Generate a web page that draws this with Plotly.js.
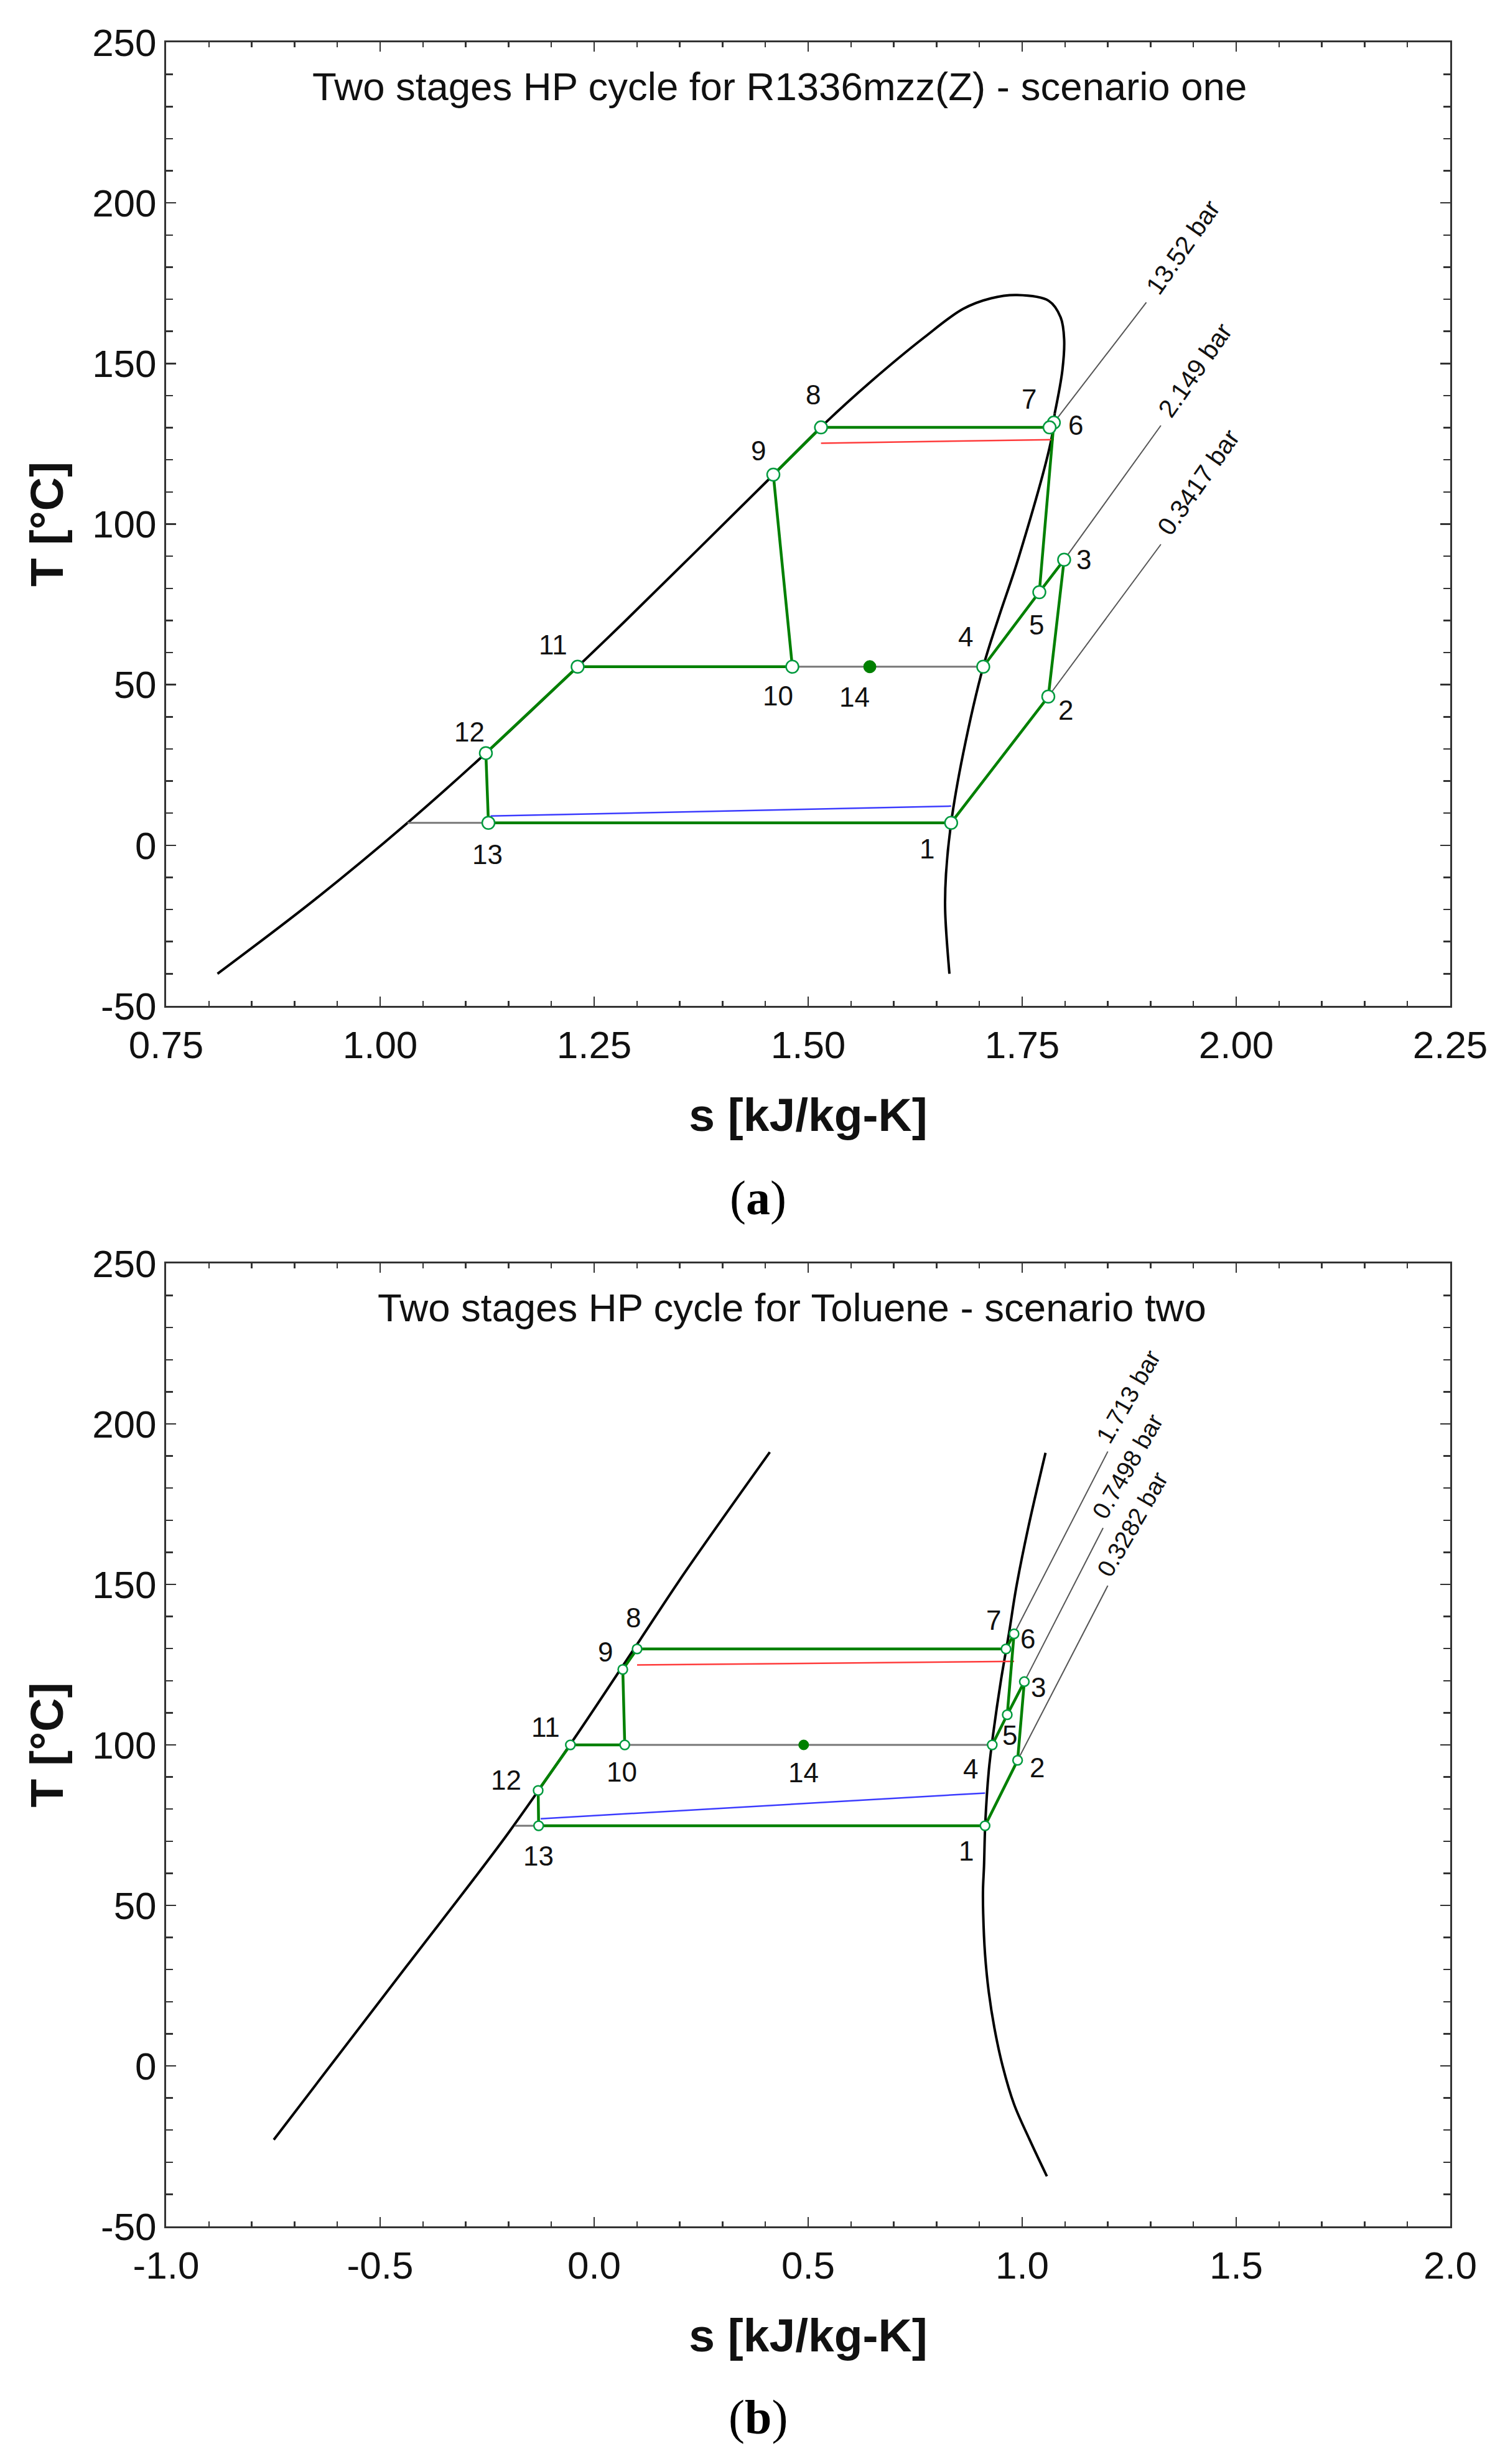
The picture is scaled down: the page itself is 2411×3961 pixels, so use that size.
<!DOCTYPE html>
<html>
<head>
<meta charset="utf-8">
<script src="https://cdn.plot.ly/plotly-3.0.1.min.js"></script>
<style>html,body{margin:0;padding:0;background:#fff}#chart{width:2411px;height:3961px}</style>
</head>
<body>
<div id="chart"></div>
<script>
// ---- Panel (a) R1336mzz(Z) ----
const aStateNames = ['1','2','3','4','5','6','7','8','9','10','11','12','13','14'];
const aStateS = [1.667,1.7805,1.799,1.7045,1.770,1.787,1.782,1.515,1.4593,1.4815,1.2307,1.1235,1.1265,1.572];
const aStateT = [7.0,46.3,88.9,55.6,78.8,131.6,130.1,130.1,115.4,55.6,55.6,28.7,7.0,55.6];
const aLabelS = [1.639,1.801,1.822,1.684,1.767,1.8125,1.758,1.506,1.442,1.465,1.202,1.104,1.1257,1.5545];
const aLabelT = [-1.0,42,88.9,64.9,68.6,130.8,138.9,140.3,122.8,46.5,62.4,35.3,-2.8,46.1];
const aLiquidS = [0.810,0.9246,1.032,1.1235,1.2307,1.285,1.4535,1.52,1.5734,1.635,1.681,1.7137,1.744,1.781,1.795,1.799,1.797,1.788];
const aLiquidT = [-40,-16.7,7,28.7,55.6,69.5,113.8,131.5,144.4,158,167,170.3,171.3,169.5,164.3,157.6,148,134.5];
const aVaporS = [1.788,1.784,1.746,1.723,1.7045,1.681,1.667,1.661,1.66,1.665];
const aVaporT = [134.5,126.3,89.7,71.3,55.6,28.5,7,-8.9,-20,-40];
const aIsoLowS = [1.032,1.1265], aIsoLowT = [7,7];
const aIsoMidS = [1.4815,1.7045], aIsoMidT = [55.6,55.6];
const aRedS = [1.515,1.787], aRedT = [125.2,126.3];
const aBlueS = [1.129,1.667], aBlueT = [9.1,12.2];
const aLeadEndS = [1.895,1.912,1.912], aLeadEndT = [169,130.7,93.7];
const aPressureText = ['13.52 bar','2.149 bar','0.3417 bar'];
const aPressureS = [1.9375,1.952,1.956], aPressureT = [186.1,148,113.1];

// ---- Panel (b) Toluene ----
const bStateS = [0.9132,0.9893,1.005,0.930,0.9651,0.981,0.9622,0.1003,0.0669,0.0715,-0.0555,-0.1308,-0.1297,0.4895];
const bStateT = [74.8,95.2,119.7,100,109.4,134.6,129.9,129.9,123.5,100,100,85.8,74.8,100];
const bLabelS = [0.8688,1.035,1.0384,0.8789,0.9707,1.0124,0.9336,0.091,0.0262,0.065,-0.1138,-0.2057,-0.1297,0.4884];
const bLabelT = [66.9,93,118,92.5,103,133,138.8,139.7,129,91.5,105.5,89.1,65.5,91.3];
const bLiquidS = [-0.7485,-0.608,-0.4385,-0.2035,-0.0484,0.1066,0.2107,0.4104];
const bLiquidT = [-23,1.5,31,72,101.6,132.6,153.5,191.2];
const bVaporS = [1.0577,1.0174,0.9811,0.9544,0.9351,0.922,0.9132,0.9089,0.9084,0.9108,0.9137,0.922,0.9331,0.95,0.9693,0.9858,1.014,1.0545];
const bVaporT = [-34.4,-23,-12,-0.1,11.8,22.9,34.8,47.4,54.8,62.2,75.4,92,104.3,119.8,134.9,148.8,167.6,191];
const bIsoLowS = [-0.1851,-0.1297], bIsoLowT = [74.8,74.8];
const bIsoMidS = [0.0715,0.930], bIsoMidT = [100,100];
const bRedS = [0.1003,0.981], bRedT = [124.9,126];
const bBlueS = [-0.125,0.9132], bBlueT = [77,85];
const bLeadEndS = [1.2,1.189,1.2], bLeadEndT = [191.4,167.6,149.6];
const bPressureText = ['1.713 bar','0.7498 bar','0.3282 bar'];
const bPressureS = [1.2485,1.247,1.2586], bPressureT = [208.6,186.9,168.8];

// ---- Axes ticks ----
const tempTicks = [-50,0,50,100,150,200,250];
const tempTickText = ['-50','0','50','100','150','200','250'];
const aEntropyTicks = [0.75,1.0,1.25,1.5,1.75,2.0,2.25];
const aEntropyText = ['0.75','1.00','1.25','1.50','1.75','2.00','2.25'];
const bEntropyTicks = [-1,-0.5,0,0.5,1,1.5,2];
const bEntropyText = ['-1.0','-0.5','0.0','0.5','1.0','1.5','2.0'];

const FONT = 'Liberation Sans, Arial, sans-serif';
const GREEN = '#008000';
const W = 2411, H = 3961;
const pathHi = [12,0,1,2,4,3];          // 13-1-2-3-5-4
const pathLo = [4,5,6,7,8,9,10,11,12];  // 5-6-7-8-9-10-11-12-13

function line(x,y,color,width,xa,ya,shape){
  return {x:x,y:y,mode:'lines',type:'scatter',xaxis:xa,yaxis:ya,hoverinfo:'skip',showlegend:false,
          line:{color:color,width:width,shape:shape||'linear'}};
}
function panel(d,xa,ya,markerSize,dotSize){
  const t = [];
  t.push(line(d.liqS,d.liqT,'#000',4,xa,ya,'spline'));
  t.push(line(d.vapS,d.vapT,'#000',4,xa,ya,'spline'));
  [5,2,1].forEach((k,i)=>{
    t.push(line([d.s[k],d.leadS[i]],[d.T[k],d.leadT[i]],'#555',2,xa,ya));
  });
  t.push(line(d.isoLowS,d.isoLowT,'#777',3,xa,ya));
  t.push(line(d.isoMidS,d.isoMidT,'#777',3,xa,ya));
  t.push(line(d.redS,d.redT,'#ff3b3b',2.5,xa,ya));
  t.push(line(d.blueS,d.blueT,'#3b3bff',2.5,xa,ya));
  t.push(line(pathHi.map(i=>d.s[i]),pathHi.map(i=>d.T[i]),GREEN,4.5,xa,ya));
  t.push(line(pathLo.map(i=>d.s[i]),pathLo.map(i=>d.T[i]),GREEN,4.5,xa,ya));
  t.push({x:d.s.slice(0,13),y:d.T.slice(0,13),mode:'markers',type:'scatter',xaxis:xa,yaxis:ya,hoverinfo:'skip',showlegend:false,
          marker:{size:markerSize,color:'#fff',line:{color:'#009a3e',width:2.5}}});
  t.push({x:[d.s[13]],y:[d.T[13]],mode:'markers',type:'scatter',xaxis:xa,yaxis:ya,hoverinfo:'skip',showlegend:false,
          marker:{size:dotSize,color:GREEN,line:{color:GREEN,width:1}}});
  return t;
}
const dataA = {s:aStateS,T:aStateT,liqS:aLiquidS,liqT:aLiquidT,vapS:aVaporS,vapT:aVaporT,leadS:aLeadEndS,leadT:aLeadEndT,
  isoLowS:aIsoLowS,isoLowT:aIsoLowT,isoMidS:aIsoMidS,isoMidT:aIsoMidT,redS:aRedS,redT:aRedT,blueS:aBlueS,blueT:aBlueT};
const dataB = {s:bStateS,T:bStateT,liqS:bLiquidS,liqT:bLiquidT,vapS:bVaporS,vapT:bVaporT,leadS:bLeadEndS,leadT:bLeadEndT,
  isoLowS:bIsoLowS,isoLowT:bIsoLowT,isoMidS:bIsoMidS,isoMidT:bIsoMidT,redS:bRedS,redT:bRedT,blueS:bBlueS,blueT:bBlueT};
const traces = panel(dataA,'x','y',20,20).concat(panel(dataB,'x2','y2',15,16));

const ann = [];
function txt(text,x,y,xr,yr,size,extra){
  ann.push(Object.assign({text:text,x:x,y:y,xref:xr,yref:yr,showarrow:false,xanchor:'center',yanchor:'middle',
    font:{family:FONT,size:size,color:'#111'}},extra||{}));
}
aStateNames.forEach((n,i)=>{
  txt(n,aLabelS[i],aLabelT[i],'x','y',44);
  txt(n,bLabelS[i],bLabelT[i],'x2','y2',44);
});
aPressureText.forEach((n,i)=>txt(n,aPressureS[i],aPressureT[i],'x','y',41,{textangle:-55}));
bPressureText.forEach((n,i)=>txt(n,bPressureS[i],bPressureT[i],'x2','y2',39,{textangle:-60}));
txt('Two stages HP cycle for R1336mzz(Z) - scenario one',1253/W,1-139/H,'paper','paper',63.5);
txt('Two stages HP cycle for Toluene - scenario two',1273/W,1-2102/H,'paper','paper',63.5);
txt('(<b>a</b>)',1218/W,1-1925/H,'paper','paper',78,{font:{family:'Liberation Serif, serif',size:78,color:'#000'}});
txt('(<b>b</b>)',1218/W,1-3885/H,'paper','paper',78,{font:{family:'Liberation Serif, serif',size:78,color:'#000'}});

function xAxis(ticks,text,range,minorStep,anchor,standoff){
  return {domain:[267/W,2331/W],range:range,anchor:anchor,tickmode:'array',tickvals:ticks,ticktext:text,
    ticks:'inside',ticklen:15,tickwidth:2.5,tickcolor:'#333',showgrid:false,zeroline:false,
    showline:true,linecolor:'#333',linewidth:3,mirror:'ticks',ticklabelstandoff:7,
    tickfont:{family:FONT,size:62,color:'#111'},
    minor:{tickmode:'linear',tick0:range[0],dtick:minorStep,ticks:'inside',ticklen:8,tickwidth:2.5,tickcolor:'#333',showgrid:false},
    title:{text:'<b>s [kJ/kg-K]</b>',font:{family:FONT,size:75,color:'#111'},standoff:standoff}};
}
function yAxis(top,bottom,anchor,standoff){
  return {domain:[1-bottom/H,1-top/H],range:[-50,250],anchor:anchor,tickmode:'array',tickvals:tempTicks,ticktext:tempTickText,
    ticks:'inside',ticklen:16,tickwidth:2.5,tickcolor:'#333',showgrid:false,zeroline:false,
    showline:true,linecolor:'#333',linewidth:3,mirror:'ticks',
    tickfont:{family:FONT,size:62,color:'#111'},
    minor:{tickmode:'linear',tick0:-50,dtick:10,ticks:'inside',ticklen:11,tickwidth:2.5,tickcolor:'#333',showgrid:false},
    title:{text:'<b>T [°C]</b>',font:{family:FONT,size:75,color:'#111'},standoff:standoff}};
}
const layout = {
  width:W,height:H,margin:{l:0,r:0,t:0,b:0},paper_bgcolor:'#fff',plot_bgcolor:'#fff',showlegend:false,
  xaxis:xAxis(aEntropyTicks,aEntropyText,[0.75,2.25],0.05,'y',53),
  yaxis:yAxis(68,1617,'x',22),
  xaxis2:xAxis(bEntropyTicks,bEntropyText,[-1,2],0.1,'y2',53),
  yaxis2:yAxis(2031,3579,'x2',22),
  annotations:ann
};
Plotly.newPlot('chart',traces,layout,{staticPlot:true,displayModeBar:false});
</script>
</body>
</html>
